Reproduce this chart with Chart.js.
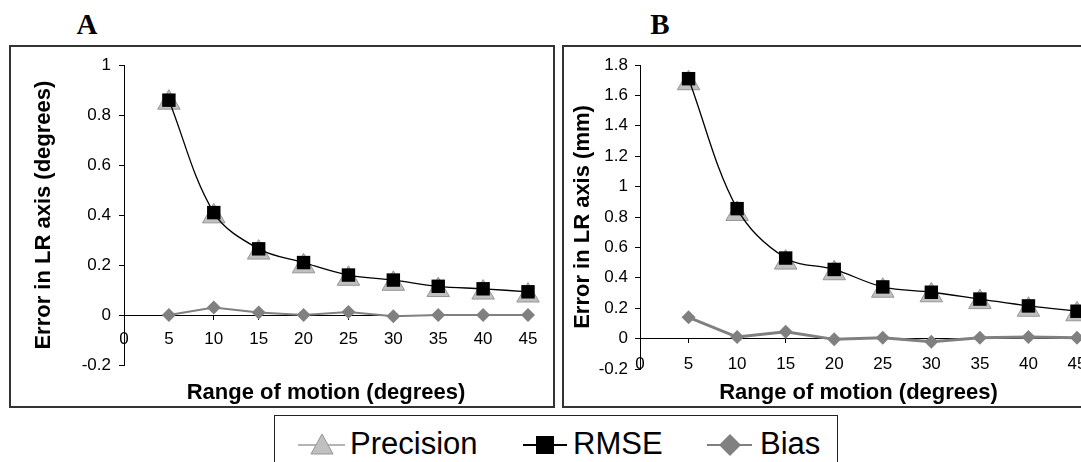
<!DOCTYPE html>
<html>
<head>
<meta charset="utf-8">
<script src="https://cdn.jsdelivr.net/npm/chart.js@4"></script>
<style>
  body { margin: 0; background: #fff; width: 1081px; height: 462px; overflow: hidden; position: relative; font-family: "Liberation Sans", Arial, sans-serif; }
  .panel { position: absolute; box-sizing: border-box; border: 2px solid #333; background: #fff; }
  .panel canvas { display: block; }
  .ptitle { position: absolute; font-family: "Liberation Serif", "Times New Roman", serif; font-weight: bold; font-size: 29px; line-height: 29px; width: 40px; text-align: center; }
  #legend { position: absolute; left: 274px; top: 415px; width: 564px; height: 60px; box-sizing: border-box; border: 1px solid #222; background: #fff; }
  .item { position: absolute; top: 0; }
  .item span { position: absolute; top: 12px; font-size: 31px; line-height: 31px; color: #000; white-space: nowrap; }
</style>
</head>
<body>
<div class="ptitle" style="left:67px;top:10px">A</div>
<div class="ptitle" style="left:640px;top:10px">B</div>

<div class="panel" style="left:9px;top:45px;width:546px;height:363px"><canvas id="chartA" width="542" height="359"></canvas></div>
<div class="panel" style="left:562px;top:45px;width:560px;height:363px"><canvas id="chartB" width="556" height="359"></canvas></div>

<div id="legend">
  <svg width="564" height="60" style="position:absolute;left:0;top:0">
    <line x1="23" y1="29" x2="70" y2="29" stroke="#b4b4b4" stroke-width="2"/>
    <polygon points="47,18 58,38 36,38" fill="#c0c0c0" stroke="#969696" stroke-width="1"/>
    <line x1="248" y1="29" x2="292" y2="29" stroke="#000" stroke-width="2"/>
    <rect x="261" y="20" width="18" height="18" fill="#000"/>
    <line x1="432" y1="29" x2="477" y2="29" stroke="#808080" stroke-width="2"/>
    <polygon points="455,18 466,29 455,40 444,29" fill="#808080"/>
  </svg>
  <div class="item"><span style="left:75px">Precision</span></div>
  <div class="item"><span style="left:298px">RMSE</span></div>
  <div class="item"><span style="left:485px">Bias</span></div>
</div>

<script>
// range of motion (degrees)
const rom = [5, 10, 15, 20, 25, 30, 35, 40, 45];

// A: error in LR axis (degrees)
const precisionA = [0.85, 0.395, 0.25, 0.195, 0.145, 0.125, 0.10, 0.09, 0.078];
const rmseA = [0.86, 0.41, 0.265, 0.21, 0.16, 0.14, 0.115, 0.105, 0.093];
const biasA = [0.0, 0.03, 0.01, 0.0, 0.012, -0.005, 0.0, 0.0, 0.0];

// B: error in LR axis (mm)
const precisionB = [1.68, 0.82, 0.50, 0.43, 0.315, 0.285, 0.24, 0.19, 0.16];
const rmseB = [1.71, 0.855, 0.53, 0.455, 0.34, 0.305, 0.26, 0.215, 0.18];
const biasB = [0.14, 0.01, 0.045, -0.005, 0.005, -0.02, 0.005, 0.01, 0.005];

const yRangeA = [-0.2, 1.0];
const yRangeB = [-0.2, 1.8];
const xRange = [0, 45];

const FONT = '"Liberation Sans", Arial, sans-serif';

function pts(vals) {
  return vals.map((v, i) => ({ x: rom[i], y: v }));
}

function makeChart(id, p) {
  const data = {
    datasets: [
      {
        label: 'RMSE',
        data: pts(p.rmse),
        order: 0,
        borderColor: '#000',
        borderWidth: 1.3,
        tension: 0.35,
        pointStyle: 'rect',
        pointRadius: 9.5,
        pointBackgroundColor: '#000',
        pointBorderWidth: 0,
        clip: false
      },
      {
        label: 'Precision',
        data: pts(p.prec),
        order: 1,
        showLine: false,
        pointStyle: 'triangle',
        pointRadius: 13,
        pointBackgroundColor: '#c0c0c0',
        pointBorderColor: '#969696',
        pointBorderWidth: 1,
        clip: false
      },
      {
        label: 'Bias',
        data: pts(p.bias),
        order: 2,
        borderColor: '#808080',
        borderWidth: p.biasWidth,
        tension: 0,
        pointStyle: 'rectRot',
        pointRadius: 7,
        pointBackgroundColor: '#808080',
        pointBorderWidth: 0,
        clip: false
      }
    ]
  };

  const config = {
    type: 'line',
    data,
    options: {
      responsive: false,
      animation: false,
      events: [],
      layout: { padding: { top: p.padTop, right: p.padRight, left: 0, bottom: 0 } },
      plugins: {
        legend: { display: false },
        tooltip: { enabled: false },
        title: {
          display: true,
          position: 'bottom',
          fullSize: false,
          text: 'Range of motion (degrees)',
          color: '#000',
          font: { family: FONT, size: 22, weight: 'bold', lineHeight: 1 },
          padding: { top: p.titleTop, bottom: 2 }
        }
      },
      scales: {
        x: {
          type: 'linear',
          min: xRange[0],
          max: xRange[1],
          position: { y: 0 },
          border: { display: true, color: '#000', width: 1 },
          grid: { display: true, drawOnChartArea: false, color: '#000', tickLength: 4 },
          ticks: {
            stepSize: 5,
            padding: p.xPad,
            color: '#000',
            font: { family: FONT, size: 17 },
            maxRotation: 0,
            callback: v => String(v)
          }
        },
        y: {
          min: p.yRange[0],
          max: p.yRange[1],
          border: { display: true, color: '#000', width: 1 },
          grid: { display: true, drawOnChartArea: false, color: '#000', tickLength: 5 },
          ticks: {
            stepSize: 0.2,
            padding: p.yPad,
            color: '#000',
            font: { family: FONT, size: 17 },
            callback: v => { const r = Math.round(v * 10) / 10; return String(r === 0 ? 0 : r); }
          },
          title: {
            display: true,
            text: p.yTitle,
            color: '#000',
            font: { family: FONT, size: 22, weight: 'bold', lineHeight: 1 },
            padding: { top: p.yTitleTop, bottom: 0 }
          },
          afterFit: scale => { scale.width = p.yWidth; }
        }
      }
    }
  };

  return new Chart(document.getElementById(id), config);
}

makeChart('chartA', {
  prec: precisionA, rmse: rmseA, bias: biasA,
  yRange: yRangeA, yTitle: 'Error in LR axis (degrees)',
  padTop: 10, padRight: 25, yWidth: 113, yTitleTop: 22, yPad: 8,
  xPad: 10, titleTop: 17, biasWidth: 2
});

makeChart('chartB', {
  prec: precisionB, rmse: rmseB, bias: biasB,
  yRange: yRangeB, yTitle: 'Error in LR axis (mm)',
  padTop: 18, padRight: 43, yWidth: 76, yTitleTop: 8, yPad: 7,
  xPad: 12, titleTop: 13, biasWidth: 3
});
</script>
</body>
</html>
